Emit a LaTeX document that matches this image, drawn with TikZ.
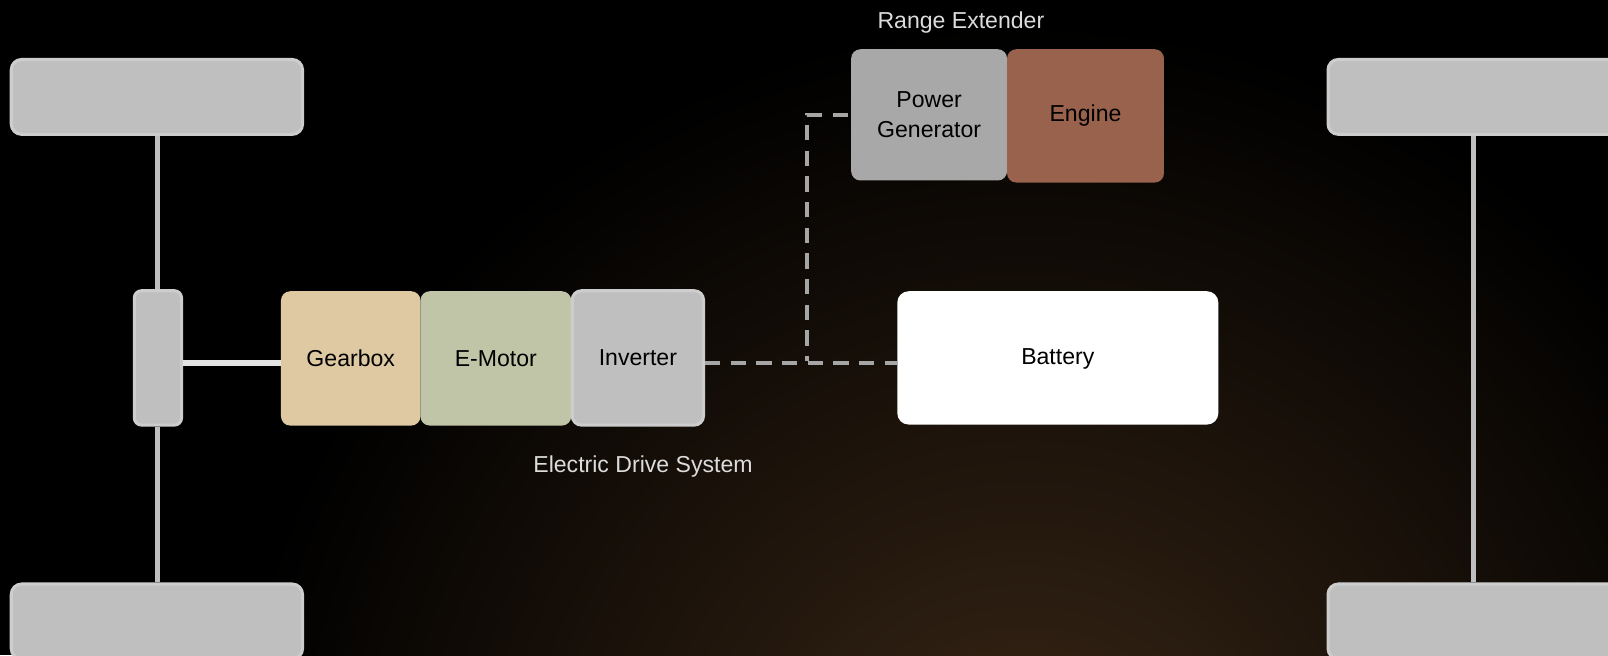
\documentclass[tikz,border=0pt]{standalone}
\usepackage{fontspec}
\setmainfont{Liberation Sans}
\definecolor{wheelfill}{HTML}{BFBFBF}
\definecolor{wheeledge}{HTML}{CDCDCD}
\definecolor{gearfill}{HTML}{DFC9A3}
\definecolor{motorfill}{HTML}{C1C5A8}
\definecolor{pgfill}{HTML}{A8A8A8}
\definecolor{enginefill}{HTML}{99624C}
\definecolor{dashcol}{HTML}{A6A6A6}
\definecolor{labelcol}{HTML}{DCDCDC}
\definecolor{glow}{HTML}{3A2716}
\definecolor{shaftcol}{HTML}{E4E4E4}
\tikzset{
  lbl/.style={font=\fontsize{22.5}{27}\selectfont},
  wheelbox/.style={draw=wheeledge, line width=3pt, fill=wheelfill, rounded corners=10pt, inner sep=0pt},
  flatbox/.style={rounded corners=9pt, inner sep=0pt, align=center, lbl, text=black},
  axle/.style={draw=wheelfill, line width=5pt},
  elink/.style={draw=dashcol, line width=4pt, dash pattern=on 15pt off 10pt},
  caption/.style={lbl, text=labelcol}
}
\begin{document}
\begin{tikzpicture}[x=1pt,y=-1pt]
\useasboundingbox (0,0) rectangle (1568,639);
\begin{scope}
  \clip (0,0) rectangle (1568,639);
  \fill[black] (0,0) rectangle (1568,639);
  \shade[inner color=glow, outer color=black] (1000,800) circle (780);
\end{scope}

% wheels
\node[wheelbox, minimum width=284pt, minimum height=73pt] (wtl) at (153,94.5) {};
\node[wheelbox, minimum width=284pt, minimum height=73pt] (wbl) at (153,606) {};
\node[wheelbox, minimum width=300pt, minimum height=73pt] (wtr) at (1445,94.5) {};
\node[wheelbox, minimum width=300pt, minimum height=73pt] (wbr) at (1445,606) {};

% differential
\node[wheelbox, rounded corners=7pt, minimum width=46pt, minimum height=131pt] (diff) at (154,349) {};

% axles
\draw[axle] (diff.north) -- (diff.north |- wtl.south);
\draw[axle] (diff.south) -- (diff.south |- wbl.north);
\coordinate (rt) at (1437,133);
\coordinate (rb) at (1437,568);
\draw[axle] (rt) -- (rb);

% electric drive system
\node[flatbox, fill=gearfill, minimum width=136pt, minimum height=131pt] (gear) at (342,349.5) {Gearbox};
\node[flatbox, fill=motorfill, minimum width=147pt, minimum height=131pt] (motor) at (483.5,349.5) {E-Motor};
\node[wheelbox, rounded corners=9pt, lbl, text=black, minimum width=128pt, minimum height=131pt] (inv) at (622,349) {Inverter};
\draw[draw=shaftcol, line width=6pt] (diff.east |- 0,354) -- (gear.west |- 0,354);

\node[caption] (eds) at (627,455) {Electric Drive System};

% battery
\node[flatbox, fill=white, rounded corners=11pt, minimum width=313pt, minimum height=130pt, text depth=3pt] (bat) at (1031.5,349) {Battery};

% range extender
\node[flatbox, fill=pgfill, minimum width=152pt, minimum height=128pt, font=\fontsize{22.5}{29}\selectfont] (pg) at (906,112) {Power\\Generator};
\node[flatbox, fill=enginefill, minimum width=153pt, minimum height=130pt] (eng) at (1058.5,113) {Engine};
\node[caption] (rex) at (937,22) {Range Extender};

% electric links
\coordinate (jn) at (787,352);
\coordinate (up) at (787,112);
\draw[elink] (inv.east |- 0,354) -- (bat.west |- 0,354);
\draw[elink, dash phase=10pt] (jn) -- (up) -- (pg.west);
\end{tikzpicture}
\end{document}
